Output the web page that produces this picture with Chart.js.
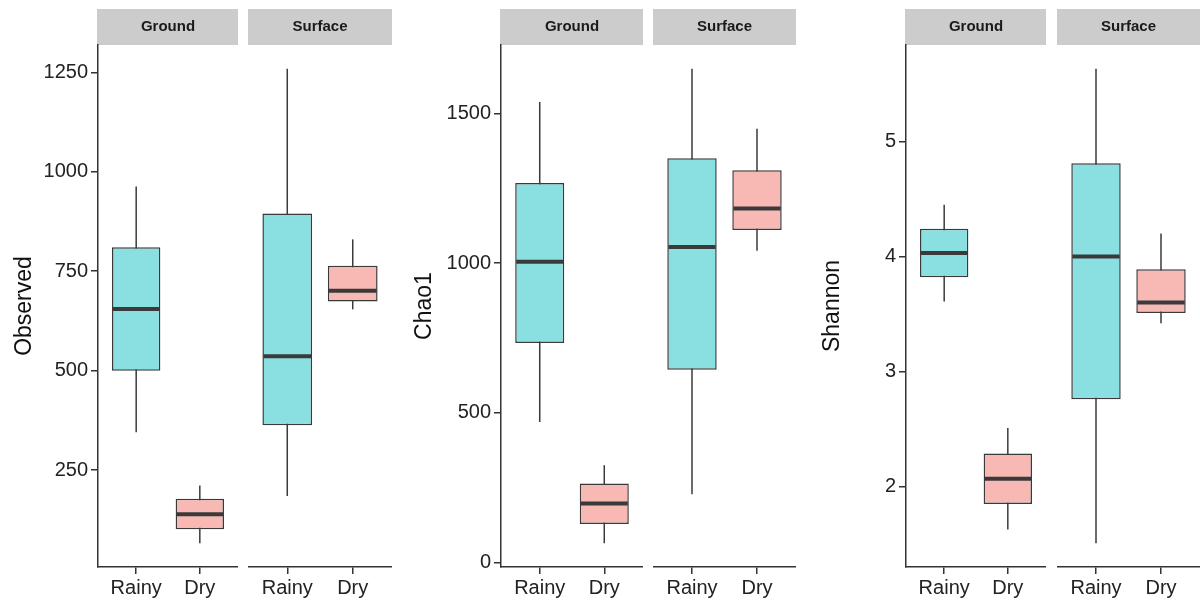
<!DOCTYPE html>
<html>
<head>
<meta charset="utf-8">
<script src="https://cdn.jsdelivr.net/npm/chart.js@4.4.1/dist/chart.umd.min.js"></script>
<style>
  body { margin: 0; background: #fff; }
  #wrap { position: relative; width: 1200px; height: 603px; overflow: hidden; }
  #wrap canvas { position: absolute; top: 0; }
</style>
</head>
<body>
<div id="wrap">
  <canvas id="obsGround" width="238" height="603" style="left:0px"></canvas>
  <canvas id="obsSurface" width="144" height="603" style="left:248px"></canvas>
  <canvas id="chaoGround" width="243" height="603" style="left:400px"></canvas>
  <canvas id="chaoSurface" width="143" height="603" style="left:653px"></canvas>
  <canvas id="shanGround" width="238" height="603" style="left:808px"></canvas>
  <canvas id="shanSurface" width="143" height="603" style="left:1057px"></canvas>
</div>
<script>
// categories
const sites = ['Ground', 'Surface'];
const seasons = ['Rainy', 'Dry'];

// box stats, order: Ground Rainy, Ground Dry, Surface Rainy, Surface Dry
const observedMin = [345, 66, 185, 654];
const observedQ1 = [500, 101, 363, 674];
const observedMedian = [655, 139, 536, 701];
const observedQ3 = [810, 178, 895, 764];
const observedMax = [963, 211, 1259, 830];

const chao1Min = [469, 64, 228, 1042];
const chao1Q1 = [733, 128, 644, 1111];
const chao1Median = [1005, 197, 1054, 1183];
const chao1Q3 = [1268, 264, 1351, 1311];
const chao1Max = [1539, 325, 1650, 1449];

const shannonMin = [3.61, 1.63, 1.51, 3.42];
const shannonQ1 = [3.82, 1.85, 2.76, 3.51];
const shannonMedian = [4.03, 2.07, 4.00, 3.60];
const shannonQ3 = [4.24, 2.29, 4.81, 3.89];
const shannonMax = [4.45, 2.51, 5.63, 4.20];

// y tick labels
const observedTicks = [250, 500, 750, 1000, 1250];
const chao1Ticks = [0, 500, 1000, 1500];
const shannonTicks = [2, 3, 4, 5];

const boxColors = ['#8adfe0', '#f8b9b5'];
const lineColor = '#3a3a3a';
const axisColor = '#333333';

Chart.defaults.font.family = '"Liberation Sans", Arial, sans-serif';

// grey facet strip above each panel
const stripPlugin = {
    id: 'strip',
    beforeDraw(chart, args, opts) {
        const { ctx, chartArea: a } = chart;
        ctx.save();
        ctx.fillStyle = '#cccccc';
        ctx.fillRect(a.left - 1, 9, a.right - a.left + 1, 36);
        ctx.fillStyle = '#1a1a1a';
        ctx.font = 'bold 15px "Liberation Sans", Arial, sans-serif';
        ctx.textAlign = 'center';
        ctx.textBaseline = 'middle';
        ctx.fillText(opts.text, (a.left + a.right) / 2, 27);
        ctx.restore();
    }
};

// whiskers behind the boxes, medians on top
const boxPlugin = {
    id: 'boxStats',
    beforeDatasetsDraw(chart) {
        const ds = chart.data.datasets[0];
        const y = chart.scales.y;
        const ctx = chart.ctx;
        ctx.save();
        ctx.strokeStyle = lineColor;
        ctx.lineWidth = 1.5;
        chart.getDatasetMeta(0).data.forEach((bar, i) => {
            ctx.beginPath();
            ctx.moveTo(bar.x, y.getPixelForValue(ds.whiskerLow[i]));
            ctx.lineTo(bar.x, y.getPixelForValue(ds.whiskerHigh[i]));
            ctx.stroke();
        });
        ctx.restore();
    },
    afterDatasetsDraw(chart) {
        const ds = chart.data.datasets[0];
        const y = chart.scales.y;
        const ctx = chart.ctx;
        ctx.save();
        ctx.strokeStyle = lineColor;
        ctx.lineWidth = 4;
        chart.getDatasetMeta(0).data.forEach((bar, i) => {
            const py = y.getPixelForValue(ds.median[i]);
            ctx.beginPath();
            ctx.moveTo(bar.x - bar.width / 2 + 1, py);
            ctx.lineTo(bar.x + bar.width / 2 - 1, py);
            ctx.stroke();
        });
        ctx.restore();
    }
};

const panels = [
    { title: 'Observed', min: observedMin, q1: observedQ1, median: observedMedian, q3: observedQ3, max: observedMax,
      ticks: observedTicks, ids: ['obsGround', 'obsSurface'], axisWidth: 98 },
    { title: 'Chao1', min: chao1Min, q1: chao1Q1, median: chao1Median, q3: chao1Q3, max: chao1Max,
      ticks: chao1Ticks, ids: ['chaoGround', 'chaoSurface'], axisWidth: 101 },
    { title: 'Shannon', min: shannonMin, q1: shannonQ1, median: shannonMedian, q3: shannonQ3, max: shannonMax,
      ticks: shannonTicks, ids: ['shanGround', 'shanSurface'], axisWidth: 98 }
];

const tickFont = { size: 20 };

panels.forEach(p => {
    const lo = Math.min(...p.min);
    const hi = Math.max(...p.max);
    const pad = (hi - lo) * 0.05;

    sites.forEach((site, s) => {
        const k = s * 2;
        const showY = s === 0;
        new Chart(document.getElementById(p.ids[s]), {
            type: 'bar',
            data: {
                datasets: [{
                    data: seasons.map((name, i) => ({ x: i + 1, y: [p.q1[k + i], p.q3[k + i]] })),
                    backgroundColor: boxColors,
                    borderColor: lineColor,
                    borderWidth: 1.5,
                    borderSkipped: false,
                    grouped: false,
                    barPercentage: 0.76,
                    categoryPercentage: 1,
                    whiskerLow: p.min.slice(k, k + 2),
                    whiskerHigh: p.max.slice(k, k + 2),
                    median: p.median.slice(k, k + 2)
                }]
            },
            options: {
                responsive: false,
                animation: false,
                devicePixelRatio: 1,
                layout: { padding: { top: 45, left: 0, right: 0, bottom: 0 } },
                plugins: {
                    legend: { display: false },
                    tooltip: { enabled: false },
                    strip: { text: site }
                },
                scales: {
                    x: {
                        type: 'linear',
                        offset: false,
                        bounds: 'data',
                        min: 0.4,
                        max: 2.6,
                        afterBuildTicks: sc => { sc.ticks = seasons.map((n, i) => ({ value: i + 1 })); },
                        afterFit: sc => { sc.height = 36; },
                        ticks: {
                            callback: (v, i) => seasons[i],
                            autoSkip: false,
                            maxRotation: 0,
                            padding: 2,
                            color: '#222',
                            font: tickFont
                        },
                        grid: { offset: false, drawOnChartArea: false, color: axisColor, lineWidth: 1.5, tickLength: 7 },
                        border: { color: axisColor, width: 1.5 }
                    },
                    y: {
                        display: showY,
                        bounds: 'data',
                        min: lo - pad,
                        max: hi + pad,
                        afterBuildTicks: sc => { sc.ticks = p.ticks.map(v => ({ value: v })); },
                        afterFit: sc => { if (showY) sc.width = p.axisWidth; },
                        ticks: {
                            callback: v => String(v),
                            padding: 3,
                            color: '#222',
                            font: tickFont
                        },
                        grid: { drawOnChartArea: false, color: axisColor, lineWidth: 1.5, tickLength: 7 },
                        border: { color: axisColor, width: 1.5 },
                        title: {
                            display: true,
                            text: p.title,
                            color: '#111',
                            font: { size: 23 },
                            padding: { top: 11, bottom: 0 }
                        }
                    }
                }
            },
            plugins: [stripPlugin, boxPlugin]
        });
    });
});
</script>
</body>
</html>
